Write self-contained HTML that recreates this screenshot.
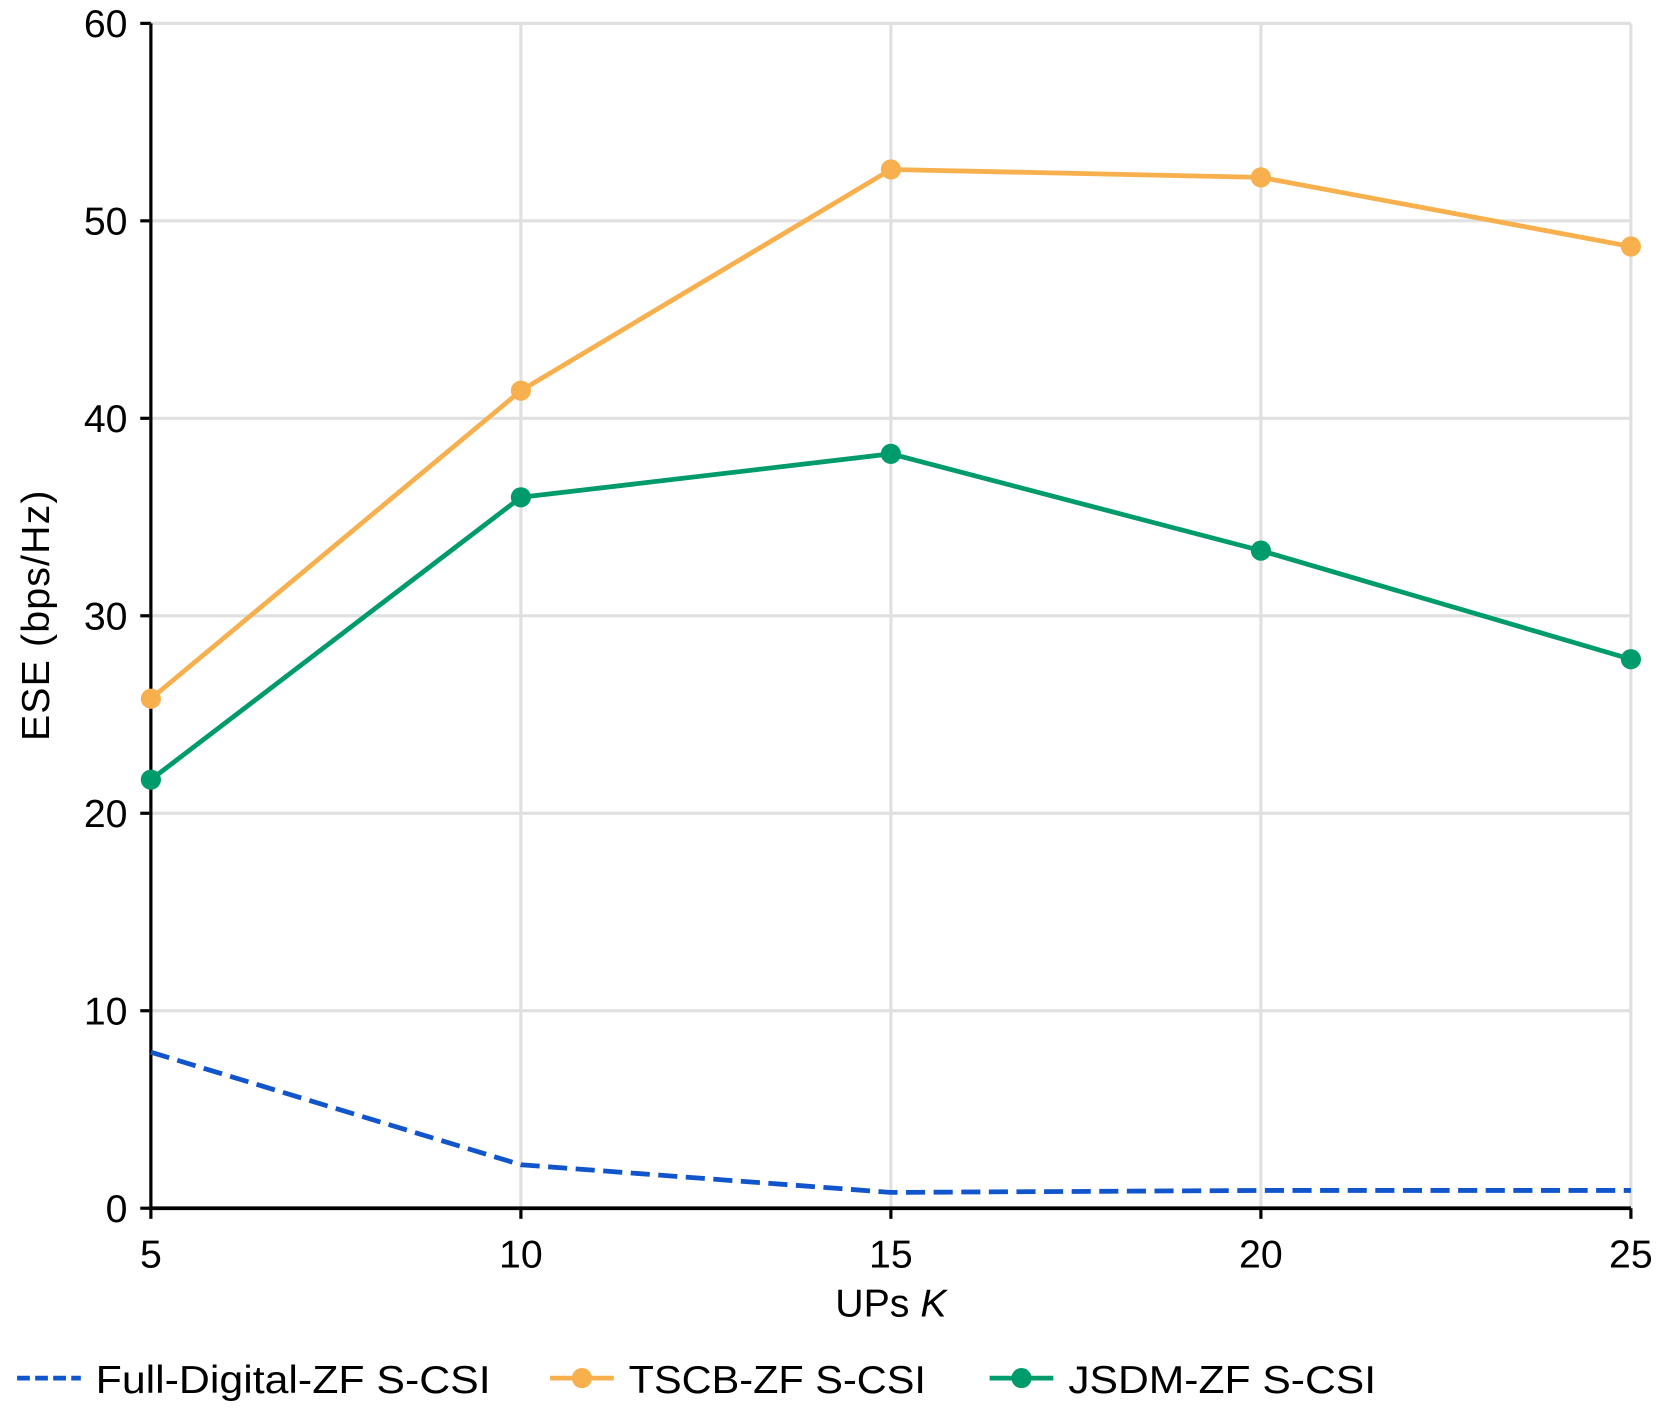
<!DOCTYPE html>
<html><head><meta charset="utf-8"><style>
html,body{margin:0;padding:0;background:#fff;}
svg{display:block;}
text{font-family:"Liberation Sans",sans-serif;fill:#000;}
</style></head><body>
<svg id="chart" width="1665" height="1411" viewBox="0 0 1568 1329" xmlns="http://www.w3.org/2000/svg"></svg>
<script>
const categories = [5, 10, 15, 20, 25];
const fullDigital = [7.9, 2.2, 0.8, 0.9, 0.9];
const tscb = [25.8, 41.4, 52.6, 52.2, 48.7];
const jsdm = [21.7, 36.0, 38.2, 33.3, 27.8];
const yTicks = [0, 10, 20, 30, 40, 50, 60];
const xTicks = [5, 10, 15, 20, 25];

const svg = document.getElementById('chart');
const NS = 'http://www.w3.org/2000/svg';
const X0 = 142, X1 = 1536, Y0 = 1138, Y1 = 22;
function xs(v){ return X0 + (v - 5) / 20 * (X1 - X0); }
function ys(v){ return Y0 - v / 60 * (Y0 - Y1); }
function mk(tag, attrs, parent){
  const e = document.createElementNS(NS, tag);
  for (const k in attrs) e.setAttribute(k, attrs[k]);
  (parent || svg).appendChild(e);
  return e;
}
yTicks.forEach(t => {
  const l = mk('line', {x1: X0, x2: X1, y1: ys(t), y2: ys(t), stroke: '#e0e0e0', 'stroke-width': 3});
  
  
  const tk = mk('line', {x1: X0 - 10, x2: X0, y1: ys(t), y2: ys(t), stroke: '#000', 'stroke-width': 3});
  
  
  const tx = mk('text', {x: X0 - 22, y: ys(t) + 13, 'font-size': 37, 'text-anchor': 'end'});
  tx.textContent = t;
  
  
});
xTicks.forEach(t => {
  const l = mk('line', {x1: xs(t), x2: xs(t), y1: Y1, y2: Y0, stroke: '#e0e0e0', 'stroke-width': 3});
  
  
  const tk = mk('line', {x1: xs(t), x2: xs(t), y1: Y0, y2: Y0 + 10, stroke: '#000', 'stroke-width': 3});
  
  
  const tx = mk('text', {x: xs(t), y: Y0 + 56, 'font-size': 37, 'text-anchor': 'middle'});
  tx.textContent = t;
  
  
});
const ya = mk('line', {x1: X0, x2: X0, y1: Y1, y2: Y0, stroke: '#000', 'stroke-width': 3});


const xa = mk('line', {x1: X0, x2: X1, y1: Y0, y2: Y0, stroke: '#000', 'stroke-width': 3.5});


const xt = mk('text', {x: 839, y: 1240, 'font-size': 37, 'text-anchor': 'middle'});
xt.innerHTML = 'UPs <tspan font-style="italic">K</tspan>';


const yt = mk('text', {x: 0, y: 0, 'font-size': 37, 'text-anchor': 'middle', transform: 'translate(46,580) rotate(-90)', textLength: 236});
yt.textContent = 'ESE (bps/Hz)';


function series(vals, color, dashed, markers, name){
  const pts = vals.map((v, i) => xs(categories[i]) + ',' + ys(v)).join(' ');
  const p = mk('polyline', {points: pts, fill: 'none', stroke: color, 'stroke-width': 4.5, 'stroke-dasharray': dashed ? '18,8' : 'none'});
  
  
  if (markers) vals.forEach((v, i) => {
    const c = mk('circle', {cx: xs(categories[i]), cy: ys(v), r: 9.5, fill: color});
    
    
  });
}
series(fullDigital, '#1155cc', true, false, 'full-digital');
series(tscb, '#f7b04d', false, true, 'tscb');
series(jsdm, '#009b6b', false, true, 'jsdm');
const legend = [['Full-Digital-ZF S-CSI', '#1155cc', true, 16, 372], ['TSCB-ZF S-CSI', '#f7b04d', false, 518, 280], ['JSDM-ZF S-CSI', '#009b6b', false, 932, 290]];
legend.forEach(([label, color, dashed, x, w]) => {
  const g = mk('g', {});
  
  
  mk('line', {x1: x, x2: x + 60, y1: 1298, y2: 1298, stroke: color, 'stroke-width': 4.5, 'stroke-dasharray': dashed ? '12,5' : 'none'}, g);
  if (!dashed) mk('circle', {cx: x + 30, cy: 1298, r: 9.5, fill: color}, g);
  const t = mk('text', {x: x + 74, y: 1312, 'font-size': 37, textLength: w, lengthAdjust: 'spacingAndGlyphs'}, g);
  t.textContent = label;
});
</script>
</body></html>
